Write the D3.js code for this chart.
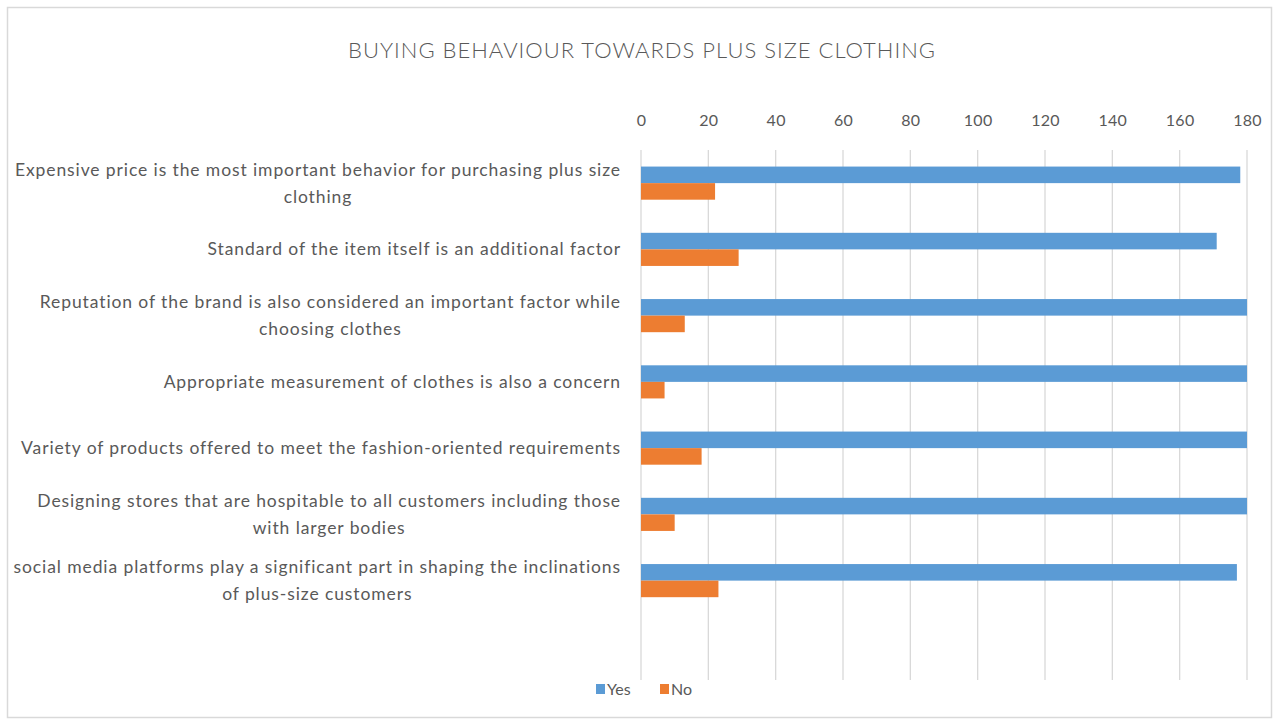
<!DOCTYPE html>
<html>
<head>
<meta charset="utf-8">
<script src="https://cdn.jsdelivr.net/npm/d3@7"></script>
<style>
  html, body { margin: 0; padding: 0; background: #fff; }
  svg { display: block; }
  text { font-family: Lato, "Open Sans", sans-serif; fill: #595959; }
</style>
</head>
<body>
<svg id="chart" width="1279" height="722"></svg>
<script>
const title = "BUYING BEHAVIOUR TOWARDS PLUS SIZE CLOTHING";
const categories = [
  ["Expensive price is the most important behavior for purchasing plus size", "clothing"],
  ["Standard of the item itself is an additional factor"],
  ["Reputation of the brand is also considered an important factor while", "choosing clothes"],
  ["Appropriate measurement of clothes is also a concern"],
  ["Variety of products offered to meet the fashion-oriented requirements"],
  ["Designing stores that are hospitable to all customers including those", "with larger bodies"],
  ["social media platforms play a significant part in shaping the inclinations", "of plus-size customers"]
];
const seriesNames = ["Yes", "No"];
const yesValues = [178, 171, 180, 180, 180, 180, 177];
const noValues = [22, 29, 13, 7, 18, 10, 23];
const tickValues = [0, 20, 40, 60, 80, 100, 120, 140, 160, 180];
const colors = ["#5B9BD5", "#ED7D31"];

const svg = d3.select("#chart");
const W = 1279, H = 722;

// outer frame
svg.append("rect").attr("x", 7.5).attr("y", 7.5).attr("width", W - 15).attr("height", H - 12)
  .attr("fill", "#fff").attr("stroke", "#d9d9d9").attr("stroke-width", 1.5);

svg.append("text").attr("x", 642).attr("y", 58).attr("text-anchor", "middle")
  .style("font-size", "22px").style("font-weight", 300).style("letter-spacing", "1px")
  .text(title);

const plotTop = 150, plotBottom = 680;
const x = d3.scaleLinear().domain([0, 180]).range([641, 1247]);
const idx = d3.range(categories.length);
// an extra blank slot at the bottom, as in the original
const y = d3.scaleBand().domain([...idx.map(String), "blank"]).range([plotTop, plotBottom]).padding(0);
const inner = d3.scaleBand().domain(seriesNames).range([y.bandwidth() * 0.25, y.bandwidth() * 0.75]).padding(0);

// gridlines
svg.append("g").selectAll("line").data(tickValues).join("line")
  .attr("x1", d => x(d)).attr("x2", d => x(d))
  .attr("y1", plotTop).attr("y2", plotBottom)
  .attr("stroke", "#d9d9d9").attr("stroke-width", 1.3);

// top axis labels
const axis = d3.axisTop(x).tickValues(tickValues).tickSize(0).tickPadding(0);
const ag = svg.append("g").attr("transform", "translate(0,126)").call(axis);
ag.select(".domain").remove();
ag.selectAll("text").style("font-size", "16px").style("font-family", "Lato, sans-serif")
  .style("letter-spacing", "0.3px").attr("fill", "#595959");

// bars
const series = [yesValues, noValues];
series.forEach((vals, si) => {
  svg.append("g").selectAll("rect").data(vals).join("rect")
    .attr("x", x(0))
    .attr("y", (d, i) => y(String(i)) + inner(seriesNames[si]))
    .attr("width", d => x(d) - x(0))
    .attr("height", inner.bandwidth())
    .attr("fill", colors[si]);
});

// category labels
const lg = svg.append("g");
categories.forEach((lines, i) => {
  const cy = y(String(i)) + y.bandwidth() / 2;
  const lh = 27;
  const t = lg.append("text").attr("text-anchor", "end")
    .style("font-size", "17.5px").style("letter-spacing", "0.9px");
  lines.forEach((ln, k) => {
    const off = (k - (lines.length - 1) / 2) * lh;
    t.append("tspan").attr("x", 621).attr("y", cy + off + 6).text(ln);
  });
  if (lines.length > 1) {
    const tsp = t.selectAll("tspan").nodes();
    const w0 = tsp[0].getComputedTextLength();
    const mid = 621 - w0 / 2;
    d3.select(tsp[1]).attr("text-anchor", "middle").attr("x", mid);
  }
});

// legend
const legend = svg.append("g");
const legItems = [{name: "Yes", x: 596}, {name: "No", x: 660}];
legItems.forEach((d, i) => {
  legend.append("rect").attr("x", d.x).attr("y", 684).attr("width", 9).attr("height", 10).attr("fill", colors[i]);
  legend.append("text").attr("x", d.x + 11).attr("y", 695).style("font-size", "16px").text(d.name);
});
</script>
</body>
</html>
